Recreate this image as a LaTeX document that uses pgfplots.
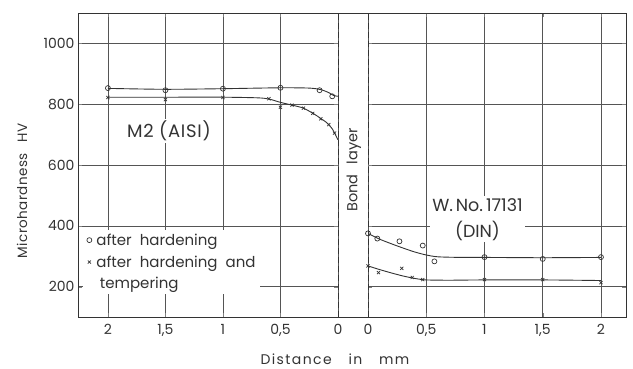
\documentclass[border=0pt]{standalone}
\usepackage{fontspec}
\setmainfont{Poppins}
\usepackage{pgfplots}
\pgfplotsset{compat=1.18}
\definecolor{ink}{HTML}{333333}
\definecolor{gridc}{HTML}{555555}
\begin{document}
\begin{tikzpicture}
% ---------- left axis: M2 (AISI)
\begin{axis}[name=L, at={(78pt,51pt)}, anchor=south west, width=260pt,
  scale only axis, height=304pt, ymin=100, ymax=1100,
  ytick={200,400,600,800,1000},
  xtick={0,0.5,1,1.5,2},
  grid=major,
  major grid style={draw=gridc, line width=0.6pt},
  axis line style={draw=none},
  tick label style={font=\fontsize{14}{16}\selectfont, text=ink},
  xticklabel style={yshift=-4pt},
  x dir=reverse, xmin=0, xmax=2.26,
  xticklabels={0,{0,5},1,{1,5},2},
  yticklabels={200,400,600,800,1000},
  legend image code/.code={\draw[mark repeat=2,mark phase=2,#1] plot coordinates {(0pt,0pt)(4pt,0pt)(8pt,0pt)};},
  legend cell align=left,
  legend style={at={(axis cs:2.215,388)}, anchor=north west, draw=none, fill=white,
    font=\fontsize{15}{17}\selectfont, text=ink, row sep=5pt, inner sep=2pt},
]
\addplot[ink, line width=0.9pt, smooth, tension=0.45, no marks, forget plot] coordinates {(2,852)(1.5,849)(1,851)(0.5,854)(0.25,853)(0.15,848)(0.08,838)(0.04,829)(0,826)};
\addplot[ink, line width=0.9pt, smooth, tension=0.45, no marks, forget plot] coordinates {(2,823)(1.5,823)(1,823)(0.7,821)(0.6,817)(0.5,806)(0.4,797)(0.3,787)(0.2,766)(0.15,753)(0.1,740)(0.05,719)(0.02,698)(0,683)};
\addplot[ink, only marks, mark=o, mark size=2.5pt, mark options={line width=0.7pt}] coordinates {(2,853)(1.5,846)(1,851)(0.5,854)(0.16,846)(0.05,826)};
\addlegendentry{\,after\ \ hardening}
\addplot[ink, only marks, mark=x, mark size=2.2pt, mark options={line width=0.7pt}] coordinates {(2,822)(1.5,815)(1,822)(0.6,818)(0.5,790)(0.4,797)(0.3,787)(0.22,770)(0.15,752)(0.08,733)(0.03,705)};
\addlegendentry{\,after\ \ hardening\ \ and}
\addlegendimage{empty legend}
\addlegendentry{\hspace{6pt}tempering}
\node[fill=white, inner sep=2pt, text=ink, font=\fontsize{18}{20}\selectfont] at (axis cs:1.47,712) {\addfontfeature{LetterSpace=4}M2 (AISI)};
\end{axis}
% ---------- right axis: W. No. 17131 (DIN)
\begin{axis}[name=R, at={(368pt,51pt)}, anchor=south west, width=258pt,
  scale only axis, height=304pt, ymin=100, ymax=1100,
  ytick={200,400,600,800,1000},
  xtick={0,0.5,1,1.5,2},
  grid=major,
  major grid style={draw=gridc, line width=0.6pt},
  axis line style={draw=none},
  tick label style={font=\fontsize{14}{16}\selectfont, text=ink},
  xticklabel style={yshift=-4pt},
  xmin=0, xmax=2.215,
  xticklabels={0,{0,5},1,{1,5},2},
  yticklabels={,,,,},
]
\addplot[ink, line width=0.9pt, smooth, tension=0.45, no marks] coordinates {(0,375)(0.1,356)(0.2,341)(0.3,327)(0.4,314)(0.5,304)(0.6,298)(0.8,296)(1,296)(1.5,295)(2,296)};
\addplot[ink, line width=0.9pt, smooth, tension=0.45, no marks] coordinates {(0,268)(0.1,256)(0.2,245)(0.3,235)(0.4,227)(0.5,222)(0.7,221)(1,222)(1.5,222)(2,220)};
\addplot[ink, only marks, mark=o, mark size=2.5pt, mark options={line width=0.7pt}] coordinates {(0,375)(0.08,358)(0.27,349)(0.47,335)(0.57,283)(1,297)(1.5,291)(2,297)};
\addplot[ink, only marks, mark=x, mark size=2.2pt, mark options={line width=0.7pt}] coordinates {(0,268)(0.09,246)(0.29,260)(0.38,230)(0.47,223)(1,223)(1.5,223)(2,213)};
\node[fill=white, inner sep=2pt, text=ink, align=center, font=\fontsize{17.5}{26}\selectfont] at (axis cs:0.94,421) {W.\,No.\,17131\\(DIN)};
\end{axis}
% ---------- frame and bond layer
\draw[ink, line width=0.9pt] (78pt,51pt) rectangle (626pt,355pt);
\draw[ink, line width=0.8pt, dash pattern=on 6pt off 3pt] (338pt,51pt) -- (338pt,355pt);
\draw[ink, line width=0.8pt, dash pattern=on 6pt off 3pt] (368pt,51pt) -- (368pt,355pt);
\node[rotate=90, text=ink, font=\fontsize{14.5}{16}\selectfont] at (354pt,198pt) {Bond\hspace{0.7em}layer};
\node[rotate=90, text=ink, font=\fontsize{13.5}{16}\selectfont] at (22pt,177pt) {\addfontfeature{LetterSpace=3}Microhardness\hspace{0.8em}HV};
\node[text=ink, font=\fontsize{14}{16}\selectfont] at (335pt,9pt) {\addfontfeature{LetterSpace=10}Distance\hspace{1.2em}in\hspace{1.2em}mm};
\path[use as bounding box] (0pt,0pt) rectangle (633pt,368pt);
\end{tikzpicture}
\end{document}
